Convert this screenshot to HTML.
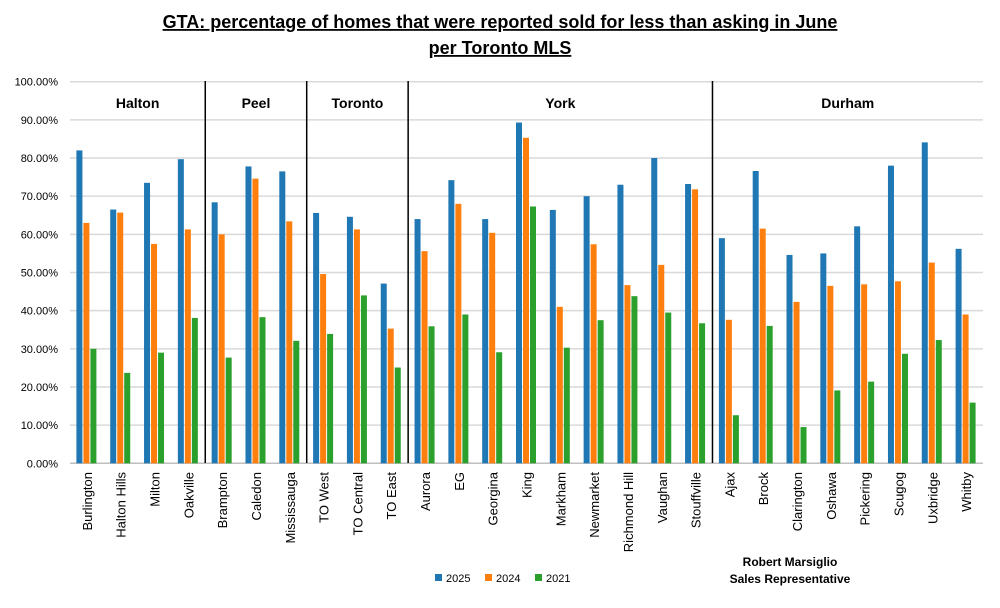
<!DOCTYPE html>
<html><head><meta charset="utf-8"><style>
body{margin:0;background:#fff;font-family:"Liberation Sans",sans-serif}
svg text{font-family:"Liberation Sans",sans-serif}
</style></head><body>
<svg id="chart" width="1000" height="603" xmlns="http://www.w3.org/2000/svg">
<text x="500" y="28" text-anchor="middle" font-size="18" font-weight="bold" text-decoration="underline">GTA: percentage of homes that were reported sold for less than asking in June</text>
<text x="500" y="54" text-anchor="middle" font-size="18" font-weight="bold" text-decoration="underline">per Toronto MLS</text>
<g id="grid"></g><g id="bars"></g><g id="xl"></g><g id="reg"></g>
<text x="790" y="566" text-anchor="middle" font-size="12" font-weight="bold">Robert Marsiglio</text>
<text x="790" y="583" text-anchor="middle" font-size="12" font-weight="bold">Sales Representative</text>
<g>
<rect x="435" y="574" width="7" height="7" fill="#1f77b4"/><text x="446" y="582" font-size="11">2025</text>
<rect x="485" y="574" width="7" height="7" fill="#ff7f0e"/><text x="496" y="582" font-size="11">2024</text>
<rect x="535" y="574" width="7" height="7" fill="#2ca02c"/><text x="546" y="582" font-size="11">2021</text>
</g>
</svg>
<script>
const categories=["Burlington","Halton Hills","Milton","Oakville","Brampton","Caledon","Mississauga","TO West","TO Central","TO East","Aurora","EG","Georgina","King","Markham","Newmarket","Richmond Hill","Vaughan","Stouffville","Ajax","Brock","Clarington","Oshawa","Pickering","Scugog","Uxbridge","Whitby"];
const s2025=[82,66.5,73.5,79.7,68.4,77.8,76.5,65.6,64.6,47.1,64,74.2,64,89.3,66.4,70,73,80,73.2,59,76.6,54.6,55,62.1,78,84.1,56.2];
const s2024=[63,65.7,57.5,61.3,60,74.6,63.4,49.6,61.3,35.3,55.6,68,60.4,85.3,41,57.4,46.7,52,71.8,37.6,61.5,42.3,46.5,46.9,47.7,52.6,39];
const s2021=[30,23.7,29,38.1,27.7,38.3,32.1,33.9,44,25.1,35.9,39,29.1,67.3,30.3,37.5,43.8,39.5,36.7,12.6,36,9.5,19.1,21.4,28.7,32.3,15.9];
const ticks=[0,10,20,30,40,50,60,70,80,90,100];
const regions=["Halton","Peel","Toronto","York","Durham"];
const regionEnds=[4,7,10,19,27];
const NS="http://www.w3.org/2000/svg";
const L=70,R=983,T=81.7,B=463.3;
const y=v=>B-(v/100)*(B-T);
const cw=(R-L)/categories.length;
const xc=i=>L+cw*(i+0.5);
function mk(t,a,p){const e=document.createElementNS(NS,t);for(const k in a)e.setAttribute(k,a[k]);p.appendChild(e);return e;}
const grid=document.getElementById('grid');
ticks.forEach(t=>{
 const l=mk('line',{x1:L,x2:R,y1:y(t),y2:y(t),stroke:t===0?'#bfbfbf':'#d9d9d9','stroke-width':1.5},grid);
 
 
 const tx=mk('text',{x:58,y:y(t)+4,'text-anchor':'end','font-size':11},grid);
 tx.textContent=t.toFixed(2)+'%';
 
 
});
const bars=document.getElementById('bars');
const series=[[s2025,'#1f77b4',-7.5],[s2024,'#ff7f0e',-0.5],[s2021,'#2ca02c',6.5]];
categories.forEach((c,i)=>{
 series.forEach(([s,col,off])=>{
  const r=mk('rect',{x:xc(i)+off-3,y:y(s[i]),width:6,height:B-y(s[i]),fill:col},bars);
  
  
 });
 const tx=mk('text',{transform:`translate(${xc(i)+5},472) rotate(-90)`,'text-anchor':'end','font-size':13},document.getElementById('xl'));
 tx.textContent=c;
 
 
});
const reg=document.getElementById('reg');
let start=0;
regions.forEach((r,k)=>{
 const end=regionEnds[k];
 const tx=mk('text',{x:(L+cw*start+L+cw*end)/2,y:108,'text-anchor':'middle','font-size':14,'font-weight':'bold'},reg);
 tx.textContent=r;
 
 
 if(end<categories.length){
  const l=mk('line',{x1:L+cw*end,x2:L+cw*end,y1:81,y2:463,stroke:'#000','stroke-width':1.5},reg);
  
  
 }
 start=end;
});
</script>
</body></html>
